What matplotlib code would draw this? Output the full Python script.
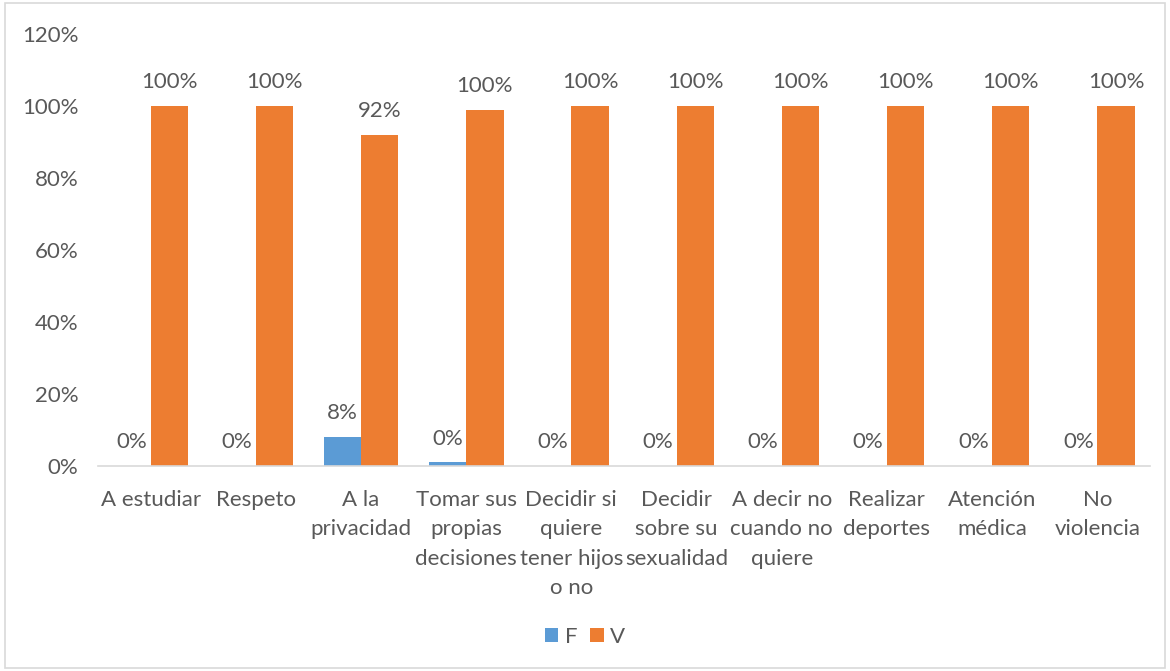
import numpy as np
import matplotlib.pyplot as plt
from matplotlib import rcParams

rcParams['font.family'] = ['Lato', 'DejaVu Sans']
rcParams['font.size'] = 16

categories = ['A estudiar', 'Respeto', 'A la\nprivacidad', 'Tomar sus\npropias\ndecisiones',
              'Decidir si\nquiere\ntener hijos\no no', 'Decidir\nsobre su\nsexualidad',
              'A decir no\ncuando no\nquiere', 'Realizar\ndeportes', 'Atención\nmédica', 'No\nviolencia']
f_vals = [0, 0, 8, 1, 0, 0, 0, 0, 0, 0]
v_vals = [100, 100, 92, 99, 100, 100, 100, 100, 100, 100]
f_labels = ['0%', '0%', '8%', '0%', '0%', '0%', '0%', '0%', '0%', '0%']
v_labels = ['100%', '100%', '92%', '100%', '100%', '100%', '100%', '100%', '100%', '100%']

text_color = '#595959'
blue = '#5B9BD5'
orange = '#ED7D31'

fig = plt.figure(figsize=(11.7, 6.71), dpi=100)
ax = fig.add_axes([0.0838, 0.3055, 0.899, 0.6435])

x = np.arange(len(categories))
w = 0.355
b1 = ax.bar(x - w / 2, f_vals, w, color=blue, label='F')
b2 = ax.bar(x + w / 2, v_vals, w, color=orange, label='V')
ax.bar_label(b1, labels=f_labels, padding=10, color=text_color, fontsize=16)
ax.bar_label(b2, labels=v_labels, padding=10, color=text_color, fontsize=16)

ax.set_xlim(-0.5, len(categories) - 0.5)
ax.set_ylim(0, 120)
ax.set_yticks(range(0, 121, 20))
ax.set_yticklabels(['{}%'.format(v) for v in range(0, 121, 20)])
ax.set_xticks(x)
ax.set_xticklabels(categories, linespacing=1.6)
ax.tick_params(axis='both', length=0, colors=text_color, labelsize=16)
ax.tick_params(axis='x', pad=17)
ax.tick_params(axis='y', pad=14)
for s in ['top', 'right', 'left']:
    ax.spines[s].set_visible(False)
ax.spines['bottom'].set_color('#D9D9D9')
ax.spines['bottom'].set_linewidth(1.2)

fig.legend(loc='center', bbox_to_anchor=(0.5, 0.051), ncol=2, frameon=False,
           handlelength=0.6, handleheight=0.6, handletextpad=0.3, columnspacing=0.6,
           labelcolor=text_color, fontsize=16)

border = plt.Rectangle((0.004, 0.004), 0.992, 0.992, transform=fig.transFigure,
                       fill=False, edgecolor='#D9D9D9', linewidth=1.2)
fig.patches.append(border)

fig.savefig('out.png')
